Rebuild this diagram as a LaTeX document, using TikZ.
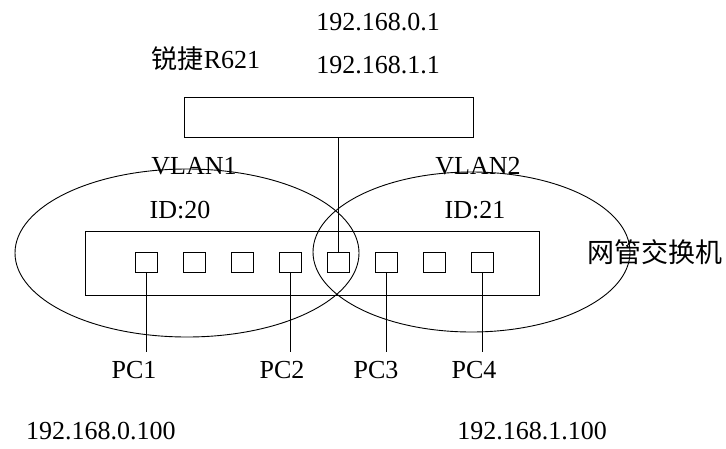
\documentclass[tikz,border=0pt]{standalone}
\usepackage{fontspec}
\setmainfont{Liberation Serif}
\newfontfamily\cjk{Noto Sans CJK SC}
\usetikzlibrary{positioning}

\begin{document}
\begin{tikzpicture}[
    x=1pt, y=-1pt,
    every node/.style={font=\fontsize{26}{30}\selectfont},
    box/.style={draw, line width=1pt, inner sep=0pt},
    port/.style={draw, line width=1pt, minimum width=22pt, minimum height=20pt, inner sep=0pt},
    pc/.style={inner sep=9pt},
    link/.style={line width=1pt},
    zone/.style={line width=0.9pt}
]
\useasboundingbox (0,0) rectangle (726,448);
\node[box, minimum width=289pt, minimum height=40pt] (router) at (328.5,117) {};
\node (rname) at (206,59) {{\cjk 锐捷}R621};
\node (ip0) at (378,22) {192.168.0.1};
\node (ip1) at (378,65) {192.168.1.1};
\node[box, minimum width=454pt, minimum height=64pt] (switch) at (312,263) {};
\node (swname) at (655,252) {\cjk\fontsize{27}{30}\selectfont 网管交换机};
\foreach \i in {1,...,8}
    \node[port] (p\i) at ({146+48*(\i-1)},262) {};
\draw[zone] (187,253) ellipse [x radius=172pt, y radius=84pt];
\draw[zone] (471.5,252) ellipse [x radius=158.5pt, y radius=80pt];
\node (vlan1) at (194,166) {VLAN1};
\node (vlan2) at (478,166) {VLAN2};
\node (id1) at (180,210) {ID:20};
\node (id2) at (475,210) {ID:21};
\draw[link] (p5.north) -- (p5.north |- router.south);
\node[pc] (pc1) at (134,370) {PC1};
\node[pc] (pc2) at (282,370) {PC2};
\node[pc] (pc3) at (376,370) {PC3};
\node[pc] (pc4) at (474,370) {PC4};
\draw[link] (p1.south) -- (p1.south |- pc1.north);
\draw[link] (p4.south) -- (p4.south |- pc2.north);
\draw[link] (p6.south) -- (p6.south |- pc3.north);
\draw[link] (p8.south) -- (p8.south |- pc4.north);
\node (ipa) at (101,431) {192.168.0.100};
\node (ipb) at (532,431) {192.168.1.100};
\end{tikzpicture}
\end{document}
